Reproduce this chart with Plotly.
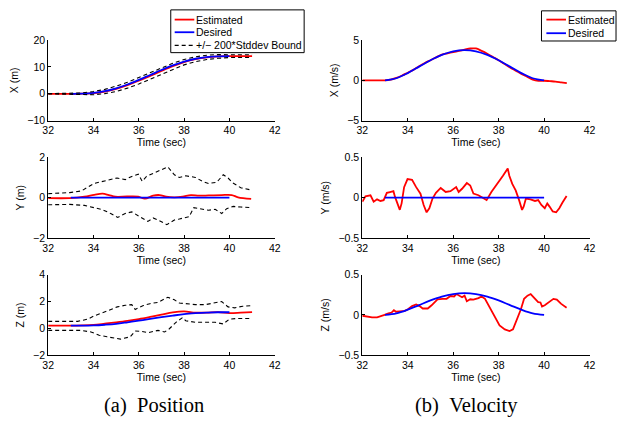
import plotly.graph_objects as go

# ---------------- data ----------------
# position samples (0.5 s grid)
t_pos = [32.0, 32.5, 33.0, 33.5, 34.0, 34.5, 35.0, 35.5, 36.0, 36.5,
         37.0, 37.5, 38.0, 38.5, 39.0, 39.5, 40.0, 40.5, 41.0]
t_des = [33.0, 33.5, 34.0, 34.5, 35.0, 35.5, 36.0, 36.5,
         37.0, 37.5, 38.0, 38.5, 39.0, 39.5, 40.0]

x_pos_est = [0, 0, 0, 0.03, 0.25, 0.85, 1.85, 3.2, 4.85, 6.65,
             8.5, 10.25, 11.75, 12.85, 13.55, 13.9, 14.0, 14.0, 14.0]
x_pos_upper = [0.05, 0.05, 0.05, 0.33, 0.85, 1.65, 2.85, 4.3, 6.05, 7.85,
               9.7, 11.35, 12.75, 13.75, 14.35, 14.6, 14.5, 14.5, 14.5]
x_pos_lower = [-0.05, -0.05, -0.05, -0.27, -0.35, 0.05, 0.85, 2.1, 3.65, 5.45,
               7.3, 9.15, 10.75, 11.95, 12.75, 13.2, 13.5, 13.5, 13.5]
x_pos_des = [0, 0.05, 0.33, 0.97, 2.03, 3.45, 5.15, 7.0,
             8.85, 10.55, 11.97, 13.03, 13.67, 13.95, 14.0]

t_y_est = [32.0, 32.95, 33.6, 34.03, 34.4, 34.68, 34.97, 35.48, 35.98, 36.27,
           36.63, 36.92, 37.21, 37.57, 37.93, 38.3, 38.65, 39.08, 39.66, 40.1,
           40.38, 40.96]
y_pos_est = [-0.02, -0.02, 0.05, 0.14, 0.2, 0.13, 0.05, 0.06, 0.05, -0.05,
             0.1, 0.13, 0.05, 0.02, 0.05, 0.13, 0.1, 0.11, 0.13, 0.13,
             0.02, -0.06]
t_y_up = [32.0, 32.95, 33.46, 34.03, 34.54, 35.04, 35.4, 35.69, 35.98, 36.15,
          36.34, 36.63, 36.85, 37.28, 37.57, 37.79, 38.07, 38.5, 38.8, 39.08,
          39.44, 39.73, 39.94, 40.15, 40.5, 40.96]
y_pos_upper = [0.2, 0.25, 0.33, 0.7, 0.84, 0.97, 0.89, 1.05, 1.16, 0.81,
               1.05, 1.2, 1.32, 1.52, 1.13, 1.0, 1.08, 1.0, 0.81, 0.7,
               0.76, 1.13, 0.97, 0.73, 0.49, 0.38]
t_y_lo = [32.0, 32.95, 33.6, 34.03, 34.4, 34.76, 35.07, 35.4, 35.69, 36.05,
          36.4, 36.63, 36.85, 37.24, 37.57, 37.79, 38.07, 38.22, 38.43, 38.72,
          39.08, 39.37, 39.66, 39.88, 40.17, 40.5, 40.96]
y_pos_lower = [-0.35, -0.33, -0.38, -0.49, -0.59, -0.78, -0.97, -0.78, -0.7, -0.94,
               -1.17, -1.0, -1.1, -1.33, -1.1, -1.05, -1.0, -0.94, -0.49, -0.54,
               -0.62, -0.57, -0.78, -0.54, -0.43, -0.46, -0.49]
y_pos_des = [0.0] * 15

z_pos_est = [0.2, 0.2, 0.2, 0.22, 0.26, 0.35, 0.45, 0.56, 0.69, 0.85,
             1.02, 1.19, 1.26, 1.17, 1.17, 1.21, 1.14, 1.17, 1.21]
z_pos_des = [0.2, 0.2, 0.22, 0.27, 0.34, 0.45, 0.57, 0.7,
             0.83, 0.95, 1.06, 1.13, 1.18, 1.2, 1.2]
t_z_up = [32.0, 33.3, 33.75, 34.03, 34.6, 35.05, 35.4, 35.69, 35.84, 36.2,
          36.49, 36.85, 37.28, 37.57, 37.79, 38.07, 38.5, 38.94, 39.37, 39.66,
          39.94, 40.23, 40.59, 41.0]
z_pos_upper = [0.52, 0.52, 0.69, 0.93, 1.29, 1.6, 1.72, 1.77, 1.41, 1.7,
               1.84, 1.94, 2.32, 2.13, 1.89, 1.84, 1.77, 1.77, 1.89, 2.0,
               1.6, 1.53, 1.65, 1.7]
t_z_lo = [32.0, 33.46, 33.89, 34.25, 34.6, 35.19, 35.62, 35.84, 36.12, 36.41,
          36.85, 37.14, 37.35, 37.64, 37.93, 38.07, 38.5, 38.87, 39.37, 39.73,
          40.0, 40.37, 41.0]
z_pos_lower = [-0.15, -0.15, -0.27, -0.51, -0.63, -0.8, -0.63, -0.2, -0.22, -0.32,
               -0.15, -0.27, -0.03, 0.45, 0.8, 0.57, 0.45, 0.45, 0.45, 0.33,
               0.69, 0.74, 0.74]

# velocity samples
t_xv = [32.0, 32.5, 33.0, 33.25, 33.5, 33.75, 34.0, 34.25, 34.5, 34.75,
        35.0, 35.25, 35.5, 35.75, 36.0, 36.25, 36.5, 36.75, 37.0, 37.25,
        37.5, 37.75, 38.0, 38.25, 38.5, 38.75, 39.0, 39.25, 39.5, 39.75,
        40.0, 40.25, 40.5, 40.75, 41.0]
x_vel_est = [0.0, 0.0, 0.0, 0.08, 0.3, 0.6, 0.95, 1.3, 1.75, 2.15,
             2.5, 2.85, 3.2, 3.35, 3.5, 3.65, 3.8, 3.95, 3.95, 3.65,
             3.3, 2.9, 2.5, 2.05, 1.6, 1.2, 0.8, 0.45, 0.1, -0.05,
             -0.05, -0.1, -0.15, -0.25, -0.35]
x_vel_des = [0.0, 0.26, 0.9, 1.7, 2.5, 3.16, 3.6, 3.75,
             3.6, 3.16, 2.5, 1.7, 0.9, 0.26, 0.0]

t_yv = [32.0, 32.14, 32.36, 32.5, 32.65, 32.8, 32.94, 33.08, 33.22, 33.37,
        33.44, 33.55, 33.65, 33.73, 33.84, 33.99, 34.19, 34.37, 34.56, 34.7,
        34.83, 34.95, 35.09, 35.24, 35.45, 35.67, 35.88, 36.13, 36.24, 36.39,
        36.6, 36.75, 36.89, 37.11, 37.25, 37.47, 37.68, 37.9, 38.19, 38.4,
        38.47, 38.6, 38.75, 38.9, 39.03, 39.1, 39.2, 39.4, 39.6, 39.74,
        39.88, 40.03, 40.14, 40.24, 40.38, 40.53, 40.67, 40.81, 40.99]
y_vel_est = [-0.05, 0.016, 0.03, -0.05, -0.02, -0.04, -0.03, 0.06, 0.07, 0.08,
             0.01, -0.09, -0.15, -0.07, 0.13, 0.23, 0.22, 0.13, 0.05, -0.09,
             -0.18, -0.13, -0.01, 0.06, 0.12, 0.07, 0.08, 0.13, 0.07, 0.11,
             0.18, 0.15, 0.05, 0.03, 0.01, -0.03, 0.07, 0.15, 0.27, 0.36,
             0.27, 0.17, 0.09, -0.03, -0.15, -0.11, -0.01, -0.02, -0.04, -0.03,
             -0.09, -0.13, -0.07, -0.11, -0.17, -0.18, -0.13, -0.06, 0.02]
y_vel_des = [0.0] * 15

t_zv = [32.0, 32.2, 32.43, 32.65, 32.8, 32.98, 33.15, 33.29, 33.39, 33.48,
        33.65, 33.87, 34.01, 34.19, 34.37, 34.52, 34.66, 34.88, 35.05, 35.31,
        35.53, 35.71, 35.88, 36.04, 36.14, 36.25, 36.39, 36.5, 36.6, 36.75,
        36.89, 37.11, 37.25, 37.4, 37.61, 37.83, 38.04, 38.27, 38.48, 38.63,
        38.76, 38.98, 39.12, 39.27, 39.41, 39.55, 39.74, 39.84, 39.91, 40.03,
        40.2, 40.41, 40.56, 40.74, 40.99]
z_vel_est = [-0.01, -0.02, -0.03, -0.03, -0.02, 0.0, 0.02, 0.03, 0.06, 0.04,
             0.045, 0.05, 0.07, 0.11, 0.13, 0.11, 0.08, 0.08, 0.12, 0.195,
             0.2, 0.2, 0.235, 0.23, 0.26, 0.24, 0.22, 0.24, 0.17, 0.195,
             0.19, 0.21, 0.23, 0.2, 0.09, -0.03, -0.13, -0.18, -0.2, -0.18,
             -0.09, 0.07, 0.2, 0.24, 0.26, 0.22, 0.16, 0.155, 0.105, 0.12,
             0.16, 0.2, 0.19, 0.14, 0.09]
z_vel_des = [0.0, 0.019, 0.065, 0.1225, 0.18, 0.228, 0.259, 0.27,
             0.259, 0.228, 0.18, 0.1225, 0.065, 0.019, 0.0]

x_ticks = [32, 34, 36, 38, 40, 42]
legend_pos_labels = ["Estimated", "Desired", "+/\u2212 200*Stddev Bound"]
legend_vel_labels = ["Estimated", "Desired"]
captions = ["(a)\u00a0\u00a0Position", "(b)\u00a0\u00a0Velocity"]

# ---------------- styling ----------------
W, H = 623, 426
SANS = "Liberation Sans, Arial, sans-serif"
SERIF = "Liberation Serif, Times New Roman, serif"
RED = "#ff0000"
BLUE = "#0000ff"
LW = 1.8
DASH = "4px,3px"

fig = go.Figure()


def est(x, y, ax, spline=False):
    fig.add_trace(go.Scatter(
        x=x, y=y, mode="lines", xaxis="x" + ax, yaxis="y" + ax,
        line=dict(color=RED, width=LW, shape="spline" if spline else "linear"),
        name="Estimated", showlegend=False))


def des(x, y, ax):
    fig.add_trace(go.Scatter(
        x=x, y=y, mode="lines", xaxis="x" + ax, yaxis="y" + ax,
        line=dict(color=BLUE, width=LW, shape="spline"),
        name="Desired", showlegend=False))


def bound(x, y, ax):
    fig.add_trace(go.Scatter(
        x=x, y=y, mode="lines", xaxis="x" + ax, yaxis="y" + ax,
        line=dict(color="black", width=1.1, dash=DASH),
        name="+/\u2212 200*Stddev Bound", showlegend=False))


# X position
est(t_pos, x_pos_est, "", spline=True)
des(t_des, x_pos_des, "")
bound(t_pos, x_pos_upper, "")
bound(t_pos, x_pos_lower, "")
# X velocity
est(t_xv, x_vel_est, "2", spline=True)
des(t_des, x_vel_des, "2")
# Y position
est(t_y_est, y_pos_est, "3", spline=True)
des(t_des, y_pos_des, "3")
bound(t_y_up, y_pos_upper, "3")
bound(t_y_lo, y_pos_lower, "3")
# Y velocity
est(t_yv, y_vel_est, "4")
des(t_des, y_vel_des, "4")
# Z position
est(t_pos, z_pos_est, "5", spline=True)
des(t_des, z_pos_des, "5")
bound(t_z_up, z_pos_upper, "5")
bound(t_z_lo, z_pos_lower, "5")
# Z velocity
est(t_zv, z_vel_est, "6")
des(t_des, z_vel_des, "6")

# axis geometry (pixels)
col_x = [(43, 274), (363.3, 595)]
row_y = [(35, 118), (155.5, 239), (276.5, 359.3)]

y_specs = [
    ("X (m)", [-10, 20], [-10, 0, 10, 20]),
    ("X (m/s)", [-5, 5], [-5, 0, 5]),
    ("Y (m)", [-2, 2], [-2, 0, 2]),
    ("Y (m/s)", [-0.5, 0.5], [-0.5, 0, 0.5]),
    ("Z (m)", [-2, 4], [-2, 0, 2, 4]),
    ("Z (m/s)", [-0.5, 0.5], [-0.5, 0, 0.5]),
]

tick_font = dict(family=SANS, size=10.5, color="black")
layout = {}
for i, (ytitle, yr, yt) in enumerate(y_specs):
    r, c = divmod(i, 2)
    x0, x1 = col_x[c]
    ytop, ybot = row_y[r]
    suffix = "" if i == 0 else str(i + 1)
    common = dict(showline=True, linecolor="black", linewidth=1,
                  mirror=False, showgrid=False, zeroline=False,
                  ticks="inside", ticklen=3, tickcolor="black",
                  tickfont=tick_font)
    layout["xaxis" + suffix] = dict(
        domain=[x0 / W, x1 / W], range=[32, 42], tickvals=x_ticks,
        anchor="y" + suffix,
        title=dict(text="Time (sec)", font=tick_font, standoff=0),
        **common)
    layout["yaxis" + suffix] = dict(
        domain=[1 - ybot / H, 1 - ytop / H], range=yr, tickvals=yt,
        anchor="x" + suffix,
        title=dict(text=ytitle, font=tick_font, standoff=6),
        **common)


# ---------------- legend boxes (paper coordinates from pixels) ----------------
def px(x):
    return x / W


def py(y):
    return 1 - y / H


shapes = []
annotations = []


def legend_box(x0, y0, x1, y1, rows, labels, line_x0, line_x1, text_x):
    shapes.append(dict(type="rect", xref="paper", yref="paper",
                       x0=px(x0), x1=px(x1), y0=py(y1), y1=py(y0),
                       line=dict(color="black", width=1), fillcolor="white",
                       layer="above"))
    styles = [dict(color=RED, width=LW), dict(color=BLUE, width=LW),
              dict(color="black", width=1.1, dash=DASH)]
    for yy, lab, st in zip(rows, labels, styles):
        shapes.append(dict(type="line", xref="paper", yref="paper",
                           x0=px(line_x0), x1=px(line_x1), y0=py(yy), y1=py(yy),
                           line=st, layer="above"))
        annotations.append(dict(text=lab, x=px(text_x), y=py(yy),
                                xref="paper", yref="paper", showarrow=False,
                                xanchor="left", yanchor="middle",
                                font=dict(family=SANS, size=10.5, color="black")))


legend_box(168, 4, 304, 48, [14, 27, 40.5], legend_pos_labels, 172, 192, 192)
legend_box(546, 5, 622, 36, [14, 28], legend_vel_labels, 551, 571, 571)

for cx, cap in zip([150.5, 470], captions):
    annotations.append(dict(text=cap, x=px(cx), y=py(411),
                            xref="paper", yref="paper", showarrow=False,
                            xanchor="center", yanchor="middle",
                            font=dict(family=SERIF, size=20.5, color="black")))

fig.update_layout(
    width=W, height=H, autosize=False,
    margin=dict(l=0, r=0, t=0, b=0),
    paper_bgcolor="white", plot_bgcolor="white",
    font=dict(family=SANS, color="black"),
    showlegend=False,
    shapes=shapes,
    annotations=annotations,
    **layout,
)

fig.write_html("out.html")
